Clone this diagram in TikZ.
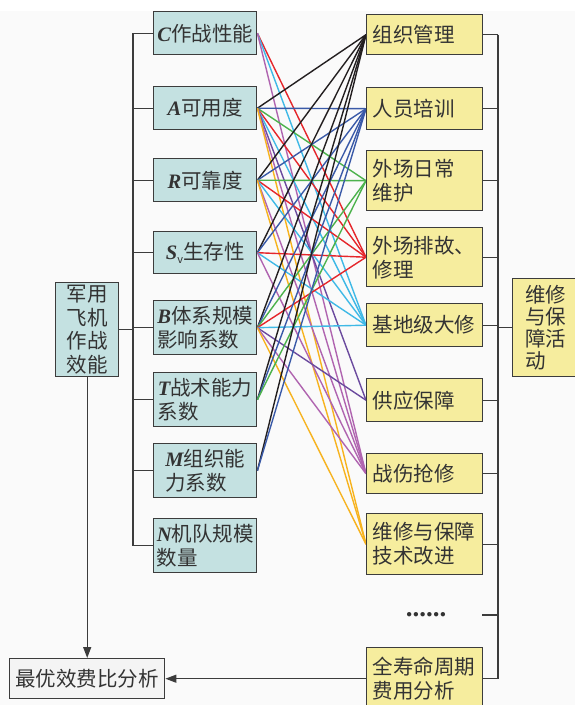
\documentclass[tikz,border=0pt]{standalone}
\usepackage{fontspec}
\setmainfont{Liberation Serif}
\newfontfamily\cjk{Noto Sans CJK SC}
\usetikzlibrary{arrows.meta,backgrounds}
\definecolor{bgc}{HTML}{FAFAFA}
\definecolor{boxline}{HTML}{3C3C3C}
\definecolor{txt}{HTML}{333333}
\definecolor{tealf}{HTML}{C4E1E1}
\definecolor{yelf}{HTML}{F6ED9E}
\definecolor{grayf}{HTML}{F4F4F4}
\definecolor{cblack}{HTML}{231F20}
\definecolor{cblue}{HTML}{3A5AA8}
\definecolor{cgreen}{HTML}{4CB24C}
\definecolor{cred}{HTML}{E5262B}
\definecolor{ccyan}{HTML}{3FB9E6}
\definecolor{cpurple}{HTML}{6B4A9E}
\definecolor{cpink}{HTML}{B064B0}
\definecolor{corange}{HTML}{F7B31E}
\newcommand\lat[1]{{\rmfamily\bfseries\itshape #1}}
\begin{document}
\begin{tikzpicture}[x=1pt,y=-1pt,
  base/.style={draw=boxline, line width=1.4pt, inner sep=0pt, anchor=north west,
    font=\cjk\fontsize{20.5}{24}\selectfont, text=txt},
  lbox/.style={base, fill=tealf, align=left, minimum width=103pt},
  rbox/.style={base, fill=yelf, align=left, text width=104pt, inner xsep=6pt},
  bus/.style={draw=boxline, line width=1.3pt},
  con/.style={line width=1.4pt}]
\useasboundingbox (0,0) rectangle (575,705);
% left column
\node[lbox, minimum height=43pt] (C) at (153,11) {\lat{C}作战性能};
\node[lbox, minimum height=43pt] (A) at (153,86) {\lat{A}可用度};
\node[lbox, minimum height=43pt] (R) at (153,158) {\lat{R}可靠度};
\node[lbox, minimum height=42pt] (S) at (153,231) {\lat{S}\raisebox{-0.35ex}{\fontsize{11}{11}\selectfont\itshape v}生存性};
\node[lbox, minimum height=54pt] (B) at (153,300) {\lat{B}体系规模\\影响系数};
\node[lbox, minimum height=54pt] (T) at (153,372) {\lat{T}战术能力\\系数};
\node[lbox, minimum height=54pt] (M) at (153,443) {\lat{M}组织能\\力系数};
\node[lbox, minimum height=54pt] (N) at (153,518) {\lat{N}机队规模\\数量};
\node[lbox, minimum width=63pt, minimum height=94pt, align=center,
  font=\cjk\fontsize{20.5}{23.5}\selectfont] (J) at (55,282) {军用\\飞机\\作战\\效能};
\node[base, fill=grayf, minimum width=155pt, minimum height=40pt] (Z) at (9,658) {最优效费比分析};
% right column
\node[rbox, minimum height=40pt] (O1) at (366,14) {组织管理};
\node[rbox, minimum height=42pt] (O2) at (366,87) {人员培训};
\node[rbox, minimum height=60pt] (O3) at (366,150) {外场日常\\维护};
\node[rbox, minimum height=59pt] (O4) at (366,227) {外场排故、\\修理};
\node[rbox, minimum height=43pt] (O5) at (366,303) {基地级大修};
\node[rbox, minimum height=43pt] (O6) at (366,378) {供应保障};
\node[rbox, minimum height=40pt] (O7) at (366,453) {战伤抢修};
\node[rbox, minimum height=61pt] (O8) at (366,513) {维修与保障\\技术改进};
\node[rbox, minimum height=62pt] (Q) at (366,647) {全寿命周期\\费用分析};
\node[font=\fontsize{27}{27}\selectfont\bfseries, text=txt] (dots) at (426,615) {......};
\coordinate (dotsend) at (482,615);
\node[base, fill=yelf, minimum width=66pt, minimum height=98pt, align=left,
  font=\cjk\fontsize{20.5}{22}\selectfont] (W) at (512,278) {维修\\与保\\障活\\动};
\coordinate (busL) at (133,0);
\coordinate (busR) at (498,0);
\begin{scope}[on background layer]
\fill[bgc] (0,11) rectangle (575,705);
% connectors
\foreach \s/\t/\c in {C/O4/cred, C/O5/ccyan, C/O7/cpink,
  A/O1/cblack, A/O2/cblue, A/O3/cgreen, A/O4/cred, A/O5/ccyan, A/O6/cpurple, A/O7/cpink, A/O8/corange,
  R/O1/cblack, R/O2/cblue, R/O3/cgreen, R/O4/cred, R/O5/ccyan, R/O7/cpink, R/O8/corange,
  S/O1/cblack, S/O2/cblue, S/O4/cred, S/O5/ccyan, S/O7/cpink,
  B/O1/cblack, B/O2/cblue, B/O3/cgreen, B/O4/cred, B/O5/ccyan, B/O6/cpurple, B/O7/cpink, B/O8/corange,
  T/O1/cblack, T/O2/cblue, T/O3/cgreen,
  M/O1/cblack, M/O2/cblue}
  \draw[con, draw=\c] (\s.east) -- (\t.west);
\end{scope}
% left bus
\draw[bus] (C.west -| busL) -- (N.west -| busL);
\foreach \n in {C,A,R,S,B,T,M,N} \draw[bus] (\n.west -| busL) -- (\n.west);
\draw[bus] (J.east) -- (J.east -| busL);
\draw[bus, -{Triangle[length=11pt,width=8pt]}] (J.south) -- (Z.north);
% right bus
\draw[bus] (O1.east -| busR) -- (Q.east -| busR);
\foreach \n in {O1,O2,O3,O4,O5,O6,O7,O8,Q} \draw[bus] (\n.east) -- (\n.east -| busR);
\draw[bus] (dotsend) -- (dotsend -| busR);
\draw[bus] (W.west -| busR) -- (W.west);
\draw[bus, -{Triangle[length=11pt,width=8pt]}] (Q.west) -- (Q.west -| Z.east);
\end{tikzpicture}
\end{document}
